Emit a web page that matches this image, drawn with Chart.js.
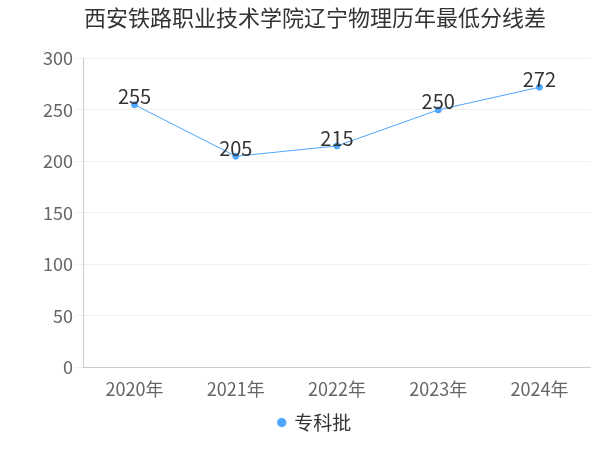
<!DOCTYPE html>
<html><head><meta charset="utf-8">
<script src="https://cdn.jsdelivr.net/npm/chart.js@4/dist/chart.umd.min.js"></script>
<style>body{margin:0;background:#fff}#w{width:600px;height:450px}</style>
</head><body><div id="w"><canvas id="c"></canvas></div>
<script>
const title = '西安铁路职业技术学院辽宁物理历年最低分线差';
const categories = ['2020年','2021年','2022年','2023年','2024年'];
const seriesName = '专科批';
const values = [255, 205, 215, 250, 272];
const FONT = '"Noto Sans CJK SC","Noto Sans",sans-serif';
const labelPlugin = {
  id: 'labels',
  afterDatasetsDraw(chart) {
    const ctx = chart.ctx;
    const meta = chart.getDatasetMeta(0);
    ctx.save();
    ctx.font = '20px ' + FONT;
    ctx.fillStyle = '#333';
    ctx.textAlign = 'center';
    ctx.textBaseline = 'bottom';
    meta.data.forEach((p, i) => ctx.fillText(String(values[i]), p.x, p.y + 2));
    ctx.restore();
  }
};
new Chart(document.getElementById('c'), {
  type: 'line',
  data: { labels: categories, datasets: [{
    label: seriesName, data: values,
    borderColor: '#4da6ff', backgroundColor: '#4da6ff',
    borderWidth: 1, pointRadius: 3, pointHoverRadius: 3, tension: 0
  }]},
  options: {
    responsive: true, maintainAspectRatio: false, animation: false,
    layout: { padding: { left: 40, right: 10, top: 0, bottom: 8 } },
    plugins: {
      title: { display: true, text: title, color: '#333', font: { family: FONT, size: 22, weight: 'normal' }, padding: { top: 4, bottom: 28 } },
      legend: { position: 'bottom', labels: { usePointStyle: true, pointStyle: 'circle', boxWidth: 6, boxHeight: 6, color: '#333', font: { family: FONT, size: 19 } } },
      tooltip: { enabled: false }
    },
    scales: {
      x: { offset: true, grid: { display: false }, border: { color: '#ccc' },
           ticks: { color: '#666', font: { family: FONT, size: 18 } } },
      y: { min: 0, max: 300, ticks: { stepSize: 50, color: '#666', font: { family: FONT, size: 18 } },
           grid: { color: '#f0f0f0' }, border: { color: '#ccc' } }
    }
  },
  plugins: [labelPlugin]
});
</script></body></html>
